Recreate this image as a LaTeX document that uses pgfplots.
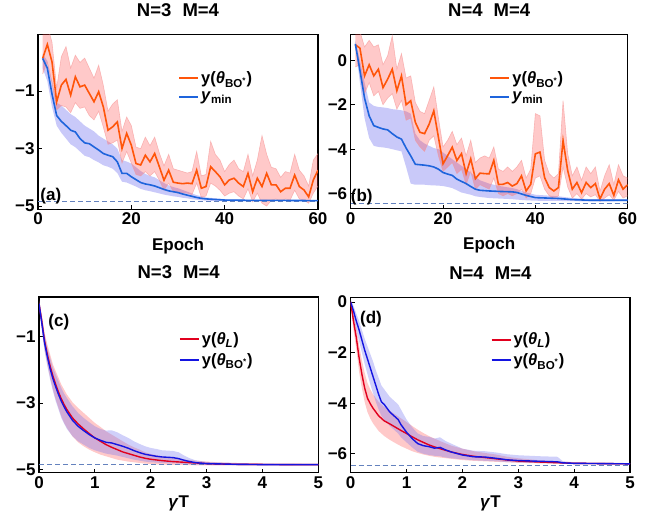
\documentclass[border=0pt]{standalone}
\usepackage{fontspec}
\setmainfont{Liberation Sans}
\usepackage{pgfplots}
\usepackage{pgfplotstable}
\usepgfplotslibrary{fillbetween}
\pgfplotsset{compat=1.18}

\definecolor{orgL}{RGB}{255,85,10}
\definecolor{bluA}{RGB}{30,100,220}
\definecolor{redC}{RGB}{225,0,30}
\definecolor{bluC}{RGB}{20,20,225}
\definecolor{pinkF}{RGB}{255,60,60}
\definecolor{pinkE}{RGB}{245,150,150}
\definecolor{lavF}{RGB}{120,120,240}
\definecolor{dashC}{RGB}{100,130,190}

% panel (a): orange y(theta_BO*)
\pgfplotstableread{
e y lo hi
1 0.14 -0.40 1.20
2 0.63 0.00 1.30
3 0.02 -0.70 0.70
4 -1.37 -1.65 -0.90
5 -0.79 -1.50 0.20
6 -0.59 -1.55 0.55
7 -1.14 -1.75 -0.20
8 -0.50 -1.40 0.25
9 -0.85 -1.60 0.00
10 -0.79 -1.55 0.15
11 -1.08 -1.85 -0.20
12 -1.37 -2.00 -0.55
13 -1.02 -1.70 -0.10
14 -1.55 -2.25 -0.80
15 -2.36 -2.85 -1.70
16 -2.24 -2.80 -1.45
17 -2.07 -2.70 -1.30
18 -3.00 -3.50 -2.40
19 -2.47 -3.10 -1.90
20 -2.88 -3.50 -2.20
21 -3.52 -3.90 -2.95
22 -3.57 -3.95 -3.00
23 -3.23 -3.80 -2.60
24 -3.46 -3.95 -2.90
25 -3.17 -3.80 -2.60
26 -3.63 -4.10 -3.15
27 -4.10 -4.45 -3.60
28 -3.75 -4.20 -3.20
29 -4.17 -4.50 -3.70
30 -4.20 -4.55 -3.75
31 -4.22 -4.55 -3.80
32 -4.20 -4.55 -3.85
33 -4.22 -4.60 -3.80
34 -3.75 -4.20 -3.10
35 -4.38 -4.70 -3.95
36 -4.32 -4.65 -3.90
37 -3.63 -4.20 -2.75
38 -3.80 -4.30 -3.20
39 -3.98 -4.45 -3.40
40 -4.26 -4.65 -3.80
41 -4.09 -4.55 -3.55
42 -4.03 -4.50 -3.40
43 -4.20 -4.65 -3.70
44 -4.32 -4.75 -3.80
45 -3.86 -4.40 -3.20
46 -4.50 -4.85 -3.95
47 -4.03 -4.55 -3.40
48 -4.32 -4.90 -2.55
49 -3.86 -5.00 -3.20
50 -4.26 -4.80 -3.65
51 -4.26 -4.75 -3.70
52 -4.50 -4.85 -4.00
53 -4.38 -4.75 -3.80
54 -4.38 -4.80 -3.85
55 -3.92 -4.45 -3.20
56 -4.32 -4.75 -3.75
57 -4.44 -4.80 -3.95
58 -4.68 -4.90 -4.30
59 -4.09 -4.55 -3.40
60 -3.75 -4.30 -3.17
}\tabAo

% panel (a): blue y_min
\pgfplotstableread{
e y lo hi
1 0.14 -0.20 0.30
2 -0.20 -0.65 0.05
3 -1.10 -1.55 -0.65
4 -1.85 -2.20 -1.40
5 -2.05 -2.45 -1.50
6 -2.20 -2.65 -1.65
7 -2.36 -2.85 -1.80
8 -2.42 -2.95 -1.90
9 -2.65 -3.10 -2.05
10 -2.80 -3.25 -2.20
11 -2.83 -3.30 -2.30
12 -2.94 -3.40 -2.40
13 -3.05 -3.48 -2.55
14 -3.17 -3.58 -2.65
15 -3.23 -3.63 -2.75
16 -3.28 -3.70 -2.85
17 -3.46 -3.85 -3.00
18 -3.86 -4.15 -3.40
19 -3.86 -4.18 -3.45
20 -3.98 -4.25 -3.52
21 -4.08 -4.32 -3.65
22 -4.18 -4.40 -3.78
23 -4.23 -4.45 -3.88
24 -4.26 -4.48 -3.95
25 -4.30 -4.52 -4.00
26 -4.36 -4.56 -4.10
27 -4.42 -4.60 -4.20
28 -4.47 -4.63 -4.28
29 -4.50 -4.66 -4.34
30 -4.53 -4.68 -4.38
31 -4.58 -4.71 -4.44
32 -4.62 -4.73 -4.50
33 -4.66 -4.76 -4.56
34 -4.70 -4.78 -4.62
35 -4.73 -4.80 -4.66
36 -4.75 -4.81 -4.70
38 -4.77 -4.82 -4.73
40 -4.79 -4.83 -4.76
45 -4.80 -4.83 -4.78
50 -4.80 -4.82 -4.79
60 -4.81 -4.82 -4.80
}\tabAb

% panel (b): orange
\pgfplotstableread{
e y lo hi
1 0.70 -0.30 1.30
2 0.55 -0.20 1.30
3 -0.70 -1.50 0.60
4 -0.20 -1.00 0.90
5 -0.70 -1.60 0.60
6 -0.40 -1.40 0.70
7 -1.23 -2.00 -0.20
8 -0.85 -1.70 0.20
9 -0.40 -1.50 1.10
10 -1.37 -2.20 -0.40
11 -0.70 -1.80 0.30
12 -2.00 -2.70 -0.80
13 -1.82 -2.60 -0.70
14 -2.79 -3.60 -1.90
15 -3.24 -3.90 -2.30
16 -3.30 -4.10 -2.40
17 -2.87 -3.60 -1.80
18 -2.27 -3.40 -1.20
19 -3.46 -4.30 -2.60
20 -4.66 -5.00 -3.90
21 -4.29 -4.80 -3.60
22 -3.91 -4.60 -3.20
23 -4.51 -5.10 -3.80
24 -4.20 -4.90 -3.50
25 -5.10 -5.60 -4.30
26 -4.43 -5.00 -3.60
27 -5.33 -5.80 -4.60
28 -5.08 -5.60 -4.40
29 -5.10 -5.70 -4.30
30 -5.11 -5.80 -4.40
31 -4.50 -5.30 -3.90
32 -5.59 -6.00 -4.90
33 -5.58 -6.10 -5.00
34 -5.50 -6.00 -4.80
35 -5.66 -6.10 -5.00
36 -5.55 -6.00 -4.80
37 -5.20 -5.80 -4.50
38 -5.88 -6.20 -5.30
39 -5.58 -6.00 -4.90
40 -4.21 -5.30 -2.40
41 -4.13 -5.20 -2.50
42 -5.28 -5.80 -4.50
43 -5.73 -6.10 -5.10
44 -5.88 -6.20 -5.30
45 -5.73 -6.10 -5.10
46 -3.61 -4.80 -1.82
47 -4.96 -5.70 -4.20
48 -5.80 -6.20 -5.20
49 -5.50 -6.00 -4.80
50 -5.96 -6.25 -5.40
51 -5.50 -6.00 -4.80
52 -5.73 -6.15 -5.10
53 -5.55 -6.05 -4.80
54 -6.24 -6.35 -5.90
55 -5.80 -6.20 -5.20
56 -5.55 -6.05 -4.70
57 -6.08 -6.30 -5.60
58 -5.38 -5.90 -4.70
59 -5.80 -6.20 -5.20
60 -5.60 -6.10 -5.30
}\tabBo

% panel (b): blue
\pgfplotstableread{
e y lo hi
1 0.74 0.60 0.90
2 -0.45 -1.00 0.00
3 -1.70 -2.60 -1.00
4 -2.50 -3.50 -1.90
5 -2.94 -3.85 -2.05
6 -3.02 -3.90 -2.10
7 -3.09 -3.92 -2.12
8 -3.13 -3.95 -2.15
9 -3.30 -4.00 -2.20
10 -3.45 -4.05 -2.22
11 -3.55 -4.10 -2.25
12 -3.95 -4.80 -2.30
13 -4.30 -5.55 -2.40
14 -4.68 -5.60 -3.30
15 -4.70 -5.60 -3.60
16 -4.72 -5.60 -3.75
17 -4.75 -5.62 -3.85
18 -4.80 -5.63 -3.95
19 -4.90 -5.64 -4.00
20 -5.05 -5.66 -4.15
21 -5.12 -5.70 -4.30
22 -5.18 -5.75 -4.45
23 -5.35 -5.85 -4.60
24 -5.45 -5.95 -4.75
25 -5.55 -6.00 -4.90
26 -5.68 -6.05 -5.05
27 -5.80 -6.12 -5.25
28 -5.85 -6.15 -5.40
30 -5.88 -6.20 -5.55
32 -5.90 -6.22 -5.65
35 -5.92 -6.25 -5.75
36 -5.95 -6.27 -5.80
38 -6.08 -6.30 -5.95
40 -6.18 -6.32 -6.05
45 -6.22 -6.33 -6.12
48 -6.27 -6.34 -6.20
52 -6.30 -6.35 -6.25
60 -6.30 -6.34 -6.26
}\tabBb

% panel (c): red y(theta_L)
\pgfplotstableread{
t y lo hi
0.00 -0.02 -0.10 0.10
0.05 -0.55 -0.75 -0.35
0.10 -1.15 -1.40 -0.90
0.15 -1.55 -1.85 -1.25
0.20 -1.90 -2.25 -1.55
0.25 -2.20 -2.60 -1.85
0.30 -2.45 -2.90 -2.05
0.35 -2.68 -3.15 -2.25
0.40 -2.88 -3.40 -2.45
0.45 -3.05 -3.60 -2.60
0.50 -3.20 -3.75 -2.75
0.60 -3.45 -4.00 -2.98
0.70 -3.63 -4.18 -3.15
0.80 -3.78 -4.30 -3.30
0.90 -3.92 -4.40 -3.45
1.00 -4.05 -4.48 -3.60
1.10 -4.15 -4.55 -3.72
1.20 -4.25 -4.60 -3.85
1.30 -4.33 -4.65 -3.95
1.40 -4.40 -4.70 -4.05
1.50 -4.47 -4.73 -4.15
1.60 -4.52 -4.76 -4.25
1.70 -4.57 -4.78 -4.33
1.80 -4.62 -4.80 -4.40
1.90 -4.66 -4.82 -4.48
2.00 -4.69 -4.83 -4.53
2.20 -4.73 -4.85 -4.60
2.40 -4.76 -4.86 -4.65
2.60 -4.78 -4.86 -4.70
2.80 -4.80 -4.87 -4.73
3.00 -4.82 -4.87 -4.76
3.20 -4.83 -4.87 -4.78
3.50 -4.84 -4.87 -4.80
4.00 -4.845 -4.87 -4.82
4.50 -4.85 -4.87 -4.82
5.00 -4.85 -4.86 -4.83
}\tabCr

% panel (c): blue y(theta_BO*)
\pgfplotstableread{
t y lo hi
0.00 -0.02 -0.10 0.10
0.05 -0.60 -0.80 -0.40
0.10 -1.20 -1.45 -0.95
0.15 -1.62 -1.90 -1.35
0.20 -1.98 -2.30 -1.65
0.25 -2.28 -2.65 -1.95
0.30 -2.52 -2.95 -2.15
0.35 -2.75 -3.20 -2.35
0.40 -2.95 -3.45 -2.55
0.45 -3.12 -3.62 -2.72
0.50 -3.27 -3.78 -2.85
0.60 -3.52 -4.00 -3.10
0.70 -3.70 -4.15 -3.30
0.80 -3.83 -4.25 -3.45
0.90 -3.95 -4.35 -3.58
1.00 -4.05 -4.42 -3.70
1.10 -4.12 -4.47 -3.78
1.20 -4.18 -4.52 -3.83
1.30 -4.20 -4.55 -3.82
1.40 -4.25 -4.58 -3.88
1.50 -4.30 -4.62 -3.97
1.60 -4.36 -4.66 -4.05
1.70 -4.43 -4.70 -4.15
1.80 -4.49 -4.73 -4.23
1.90 -4.54 -4.76 -4.30
2.00 -4.57 -4.78 -4.35
2.10 -4.60 -4.79 -4.38
2.20 -4.62 -4.80 -4.42
2.30 -4.63 -4.81 -4.43
2.40 -4.64 -4.81 -4.44
2.50 -4.67 -4.82 -4.48
2.60 -4.72 -4.83 -4.58
2.70 -4.76 -4.84 -4.66
2.80 -4.79 -4.85 -4.72
3.00 -4.82 -4.86 -4.77
3.50 -4.84 -4.87 -4.80
4.00 -4.85 -4.87 -4.82
5.00 -4.85 -4.86 -4.84
}\tabCb

% panel (d): red
\pgfplotstableread{
t y lo hi
0.00 0.00 -0.15 0.10
0.05 -0.75 -1.10 -0.45
0.10 -1.40 -1.85 -1.00
0.15 -2.20 -2.75 -1.70
0.20 -2.85 -3.40 -2.30
0.25 -3.40 -3.95 -2.80
0.30 -3.80 -4.35 -3.20
0.35 -4.02 -4.60 -3.45
0.40 -4.20 -4.80 -3.65
0.50 -4.50 -5.10 -3.95
0.60 -4.70 -5.30 -4.15
0.70 -4.82 -5.45 -4.30
0.80 -4.95 -5.58 -4.45
0.90 -5.08 -5.70 -4.60
1.00 -5.20 -5.80 -4.75
1.10 -5.33 -5.90 -4.90
1.20 -5.45 -5.97 -5.05
1.30 -5.55 -6.03 -5.18
1.40 -5.65 -6.08 -5.30
1.50 -5.73 -6.12 -5.40
1.60 -5.80 -6.15 -5.50
1.80 -5.93 -6.20 -5.68
2.00 -6.03 -6.25 -5.80
2.20 -6.10 -6.28 -5.90
2.40 -6.15 -6.30 -5.97
2.60 -6.20 -6.32 -6.03
2.80 -6.25 -6.34 -6.12
3.00 -6.29 -6.36 -6.18
3.40 -6.33 -6.38 -6.26
4.00 -6.38 -6.41 -6.34
5.00 -6.40 -6.42 -6.37
}\tabDr

% panel (d): blue
\pgfplotstableread{
t y lo hi
0.00 0.00 -0.10 0.10
0.05 -0.35 -0.60 -0.15
0.10 -0.75 -1.10 -0.45
0.15 -1.10 -1.55 -0.75
0.20 -1.50 -2.00 -1.10
0.25 -1.90 -2.45 -1.45
0.30 -2.25 -2.85 -1.75
0.35 -2.60 -3.25 -2.05
0.40 -2.95 -3.60 -2.35
0.45 -3.30 -3.95 -2.70
0.50 -3.65 -4.25 -3.00
0.55 -3.95 -4.50 -3.30
0.60 -4.05 -4.65 -3.45
0.70 -4.35 -4.90 -3.75
0.80 -4.55 -5.10 -3.95
0.85 -4.65 -5.20 -4.05
0.90 -4.85 -5.35 -4.25
1.00 -5.15 -5.55 -4.65
1.10 -5.40 -5.75 -4.95
1.20 -5.60 -5.92 -5.20
1.30 -5.68 -6.00 -5.30
1.40 -5.72 -6.05 -5.33
1.50 -5.78 -6.08 -5.40
1.60 -5.75 -6.10 -5.35
1.70 -5.85 -6.15 -5.50
1.80 -5.93 -6.18 -5.60
2.00 -6.05 -6.22 -5.80
2.20 -6.12 -6.26 -5.88
2.40 -6.13 -6.28 -5.90
2.60 -6.18 -6.30 -5.95
2.80 -6.24 -6.33 -6.02
3.00 -6.27 -6.35 -6.06
3.40 -6.30 -6.37 -6.10
3.70 -6.32 -6.38 -6.12
3.80 -6.36 -6.40 -6.30
4.00 -6.38 -6.41 -6.34
5.00 -6.40 -6.42 -6.37
}\tabDb

\newcommand{\thBO}{y(\textit{θ}\textsubscript{BO\textsuperscript{*}})}
\newcommand{\fs}{\bfseries\fontsize{17}{20}\selectfont}
\newcommand{\fst}{\bfseries\fontsize{18.5}{22}\selectfont}

\pgfplotsset{
  panel/.style={
    scale only axis,
    anchor=south west,
    font=\fs,
    tick label style={font=\fs},
    axis line style={line width=1.1pt},
    tick align=inside,
    major tick length=4pt,
    tick style={black, line width=0.8pt},
    xtick pos=bottom, ytick pos=left,
    title style={at={(0.5,1)}, anchor=base, yshift=12pt, font=\fst},
    legend cell align=left,
    legend style={draw=none, fill=none, inner sep=0pt, row sep=3pt,
      font=\bfseries\fontsize{16.5}{19}\selectfont, anchor=north west},
    legend image code/.code={\draw[#1] (0pt,0pt) -- (19pt,0pt);},
  },
  dsh/.style={dashC, dash pattern=on 5pt off 3pt, line width=0.8pt, forget plot},
}

\begin{document}
\begin{tikzpicture}
\path (0pt,0pt) rectangle (665pt,523pt);

% ---------------- (a) ----------------
\begin{axis}[panel,
  at={(38pt,316pt)}, width=280pt, height=175pt,
  xmin=0, xmax=60, ymin=-5.11, ymax=0.98,
  xtick={0,20,40,60}, xticklabels={0,20,40,60},
  ytick={-5,-3,-1}, yticklabels={−5,−3,−1},
  title={N=3\hspace{0.6em}M=4},
  xlabel={Epoch},
  xlabel style={at={(axis description cs:0.5,0)}, anchor=base, yshift=-41pt},
  legend style={at={(axis description cs:0.5,0.8)}},
]
\addlegendimage{orgL, line width=2pt}
\addlegendentry{\thBO}
\addlegendimage{bluA, line width=2pt}
\addlegendentry{\textit{y}\textsubscript{min}}
\addplot[draw=none, name path=abU, forget plot] table[x=e,y=hi]{\tabAb};
\addplot[draw=none, name path=abL, forget plot] table[x=e,y=lo]{\tabAb};
\addplot[fill=lavF, fill opacity=0.4, draw=none, forget plot] fill between[of=abU and abL];
\addplot[draw=none, name path=aoU, forget plot] table[x=e,y=hi]{\tabAo};
\addplot[draw=none, name path=aoL, forget plot] table[x=e,y=lo]{\tabAo};
\addplot[fill=pinkF, fill opacity=0.28, draw=none, forget plot] fill between[of=aoU and aoL];
\addplot[pinkE, line width=0.6pt, draw opacity=0.6, forget plot] table[x=e,y=hi]{\tabAo};
\addplot[pinkE, line width=0.6pt, draw opacity=0.6, forget plot] table[x=e,y=lo]{\tabAo};
\addplot[dsh] coordinates {(0,-4.85) (60,-4.85)};
\addplot[orgL, line width=1.6pt, forget plot] table[x=e,y=y]{\tabAo};
\addplot[bluA, line width=1.6pt, forget plot] table[x=e,y=y]{\tabAb};
\node[anchor=base west, inner sep=0pt] at (axis description cs:0.008,0.05) {(a)};
\end{axis}

% ---------------- (b) ----------------
\begin{axis}[panel,
  at={(350.7pt,316.3pt)}, width=277pt, height=174.4pt,
  xmin=0, xmax=60, ymin=-6.69, ymax=1.16,
  xtick={0,20,40,60}, xticklabels={0,20,40,60},
  ytick={-6,-4,-2,0}, yticklabels={−6,−4,−2,0},
  title={N=4\hspace{0.6em}M=4},
  xlabel={Epoch},
  xlabel style={at={(axis description cs:0.5,0)}, anchor=base, yshift=-41pt},
  legend style={at={(axis description cs:0.5,0.8)}},
]
\addlegendimage{orgL, line width=2pt}
\addlegendentry{\thBO}
\addlegendimage{bluA, line width=2pt}
\addlegendentry{\textit{y}\textsubscript{min}}
\addplot[draw=none, name path=bbU, forget plot] table[x=e,y=hi]{\tabBb};
\addplot[draw=none, name path=bbL, forget plot] table[x=e,y=lo]{\tabBb};
\addplot[fill=lavF, fill opacity=0.4, draw=none, forget plot] fill between[of=bbU and bbL];
\addplot[draw=none, name path=boU, forget plot] table[x=e,y=hi]{\tabBo};
\addplot[draw=none, name path=boL, forget plot] table[x=e,y=lo]{\tabBo};
\addplot[fill=pinkF, fill opacity=0.28, draw=none, forget plot] fill between[of=boU and boL];
\addplot[pinkE, line width=0.6pt, draw opacity=0.6, forget plot] table[x=e,y=hi]{\tabBo};
\addplot[pinkE, line width=0.6pt, draw opacity=0.6, forget plot] table[x=e,y=lo]{\tabBo};
\addplot[dsh] coordinates {(0,-6.42) (60,-6.42)};
\addplot[orgL, line width=1.6pt, forget plot] table[x=e,y=y]{\tabBo};
\addplot[bluA, line width=1.6pt, forget plot] table[x=e,y=y]{\tabBb};
\node[anchor=base west, inner sep=0pt] at (axis description cs:0.0,0.044) {(b)};
\end{axis}

% ---------------- (c) ----------------
\begin{axis}[panel,
  at={(39pt,52.3pt)}, width=279.3pt, height=176pt,
  xmin=0, xmax=5, ymin=-5.1, ymax=0.18,
  xtick={0,1,2,3,4,5}, xticklabels={0,1,2,3,4,5},
  ytick={-5,-3,-1}, yticklabels={−5,−3,−1},
  title={N=3\hspace{0.6em}M=4},
  xlabel={\textit{γ}T},
  xlabel style={at={(axis description cs:0.5,0)}, anchor=base, yshift=-35pt},
  legend style={at={(axis description cs:0.5,0.81)}},
]
\addlegendimage{redC, line width=2pt}
\addlegendentry{y(\textit{θ}\textsubscript{\textit{L}})}
\addlegendimage{bluC, line width=2pt}
\addlegendentry{\thBO}
\addplot[draw=none, name path=crU, forget plot] table[x=t,y=hi]{\tabCr};
\addplot[draw=none, name path=crL, forget plot] table[x=t,y=lo]{\tabCr};
\addplot[fill=pinkF, fill opacity=0.28, draw=none, forget plot] fill between[of=crU and crL];
\addplot[draw=none, name path=cbU, forget plot] table[x=t,y=hi]{\tabCb};
\addplot[draw=none, name path=cbL, forget plot] table[x=t,y=lo]{\tabCb};
\addplot[fill=lavF, fill opacity=0.35, draw=none, forget plot] fill between[of=cbU and cbL];
\addplot[dsh] coordinates {(0,-4.85) (5,-4.85)};
\addplot[redC, line width=1.4pt, forget plot] table[x=t,y=y]{\tabCr};
\addplot[bluC, line width=1.4pt, forget plot] table[x=t,y=y]{\tabCb};
\node[anchor=base west, inner sep=0pt] at (axis description cs:0.033,0.833) {(c)};
\end{axis}

% ---------------- (d) ----------------
\begin{axis}[panel,
  at={(350.7pt,52.3pt)}, width=279.3pt, height=175.7pt,
  xmin=0, xmax=5, ymin=-6.76, ymax=0.19,
  xtick={0,1,2,3,4,5}, xticklabels={0,1,2,3,4,5},
  ytick={-6,-4,-2,0}, yticklabels={−6,−4,−2,0},
  title={N=4\hspace{0.6em}M=4},
  xlabel={\textit{γ}T},
  xlabel style={at={(axis description cs:0.5,0)}, anchor=base, yshift=-35pt},
  legend style={at={(axis description cs:0.5,0.81)}},
]
\addlegendimage{redC, line width=2pt}
\addlegendentry{y(\textit{θ}\textsubscript{\textit{L}})}
\addlegendimage{bluC, line width=2pt}
\addlegendentry{\thBO}
\addplot[draw=none, name path=drU, forget plot] table[x=t,y=hi]{\tabDr};
\addplot[draw=none, name path=drL, forget plot] table[x=t,y=lo]{\tabDr};
\addplot[fill=pinkF, fill opacity=0.28, draw=none, forget plot] fill between[of=drU and drL];
\addplot[draw=none, name path=dbU, forget plot] table[x=t,y=hi]{\tabDb};
\addplot[draw=none, name path=dbL, forget plot] table[x=t,y=lo]{\tabDb};
\addplot[fill=lavF, fill opacity=0.35, draw=none, forget plot] fill between[of=dbU and dbL];
\addplot[dsh] coordinates {(0,-6.45) (5,-6.45)};
\addplot[redC, line width=1.4pt, forget plot] table[x=t,y=y]{\tabDr};
\addplot[bluC, line width=1.4pt, forget plot] table[x=t,y=y]{\tabDb};
\node[anchor=base west, inner sep=0pt] at (axis description cs:0.033,0.848) {(d)};
\end{axis}
\end{tikzpicture}
\end{document}
